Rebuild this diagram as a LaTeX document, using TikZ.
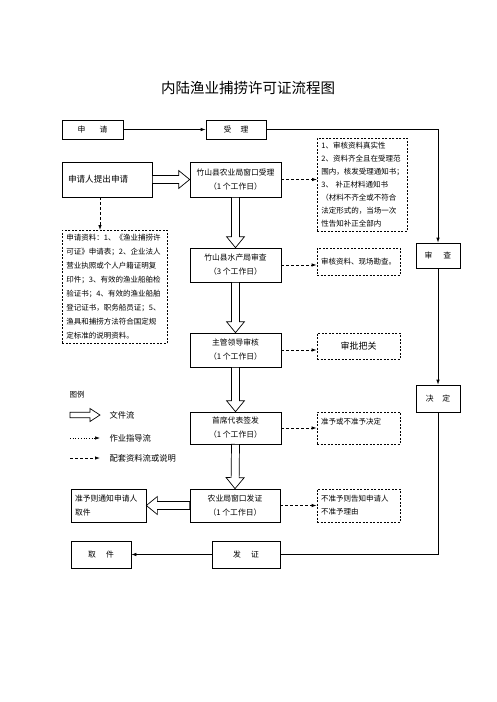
\documentclass[tikz,border=0pt]{standalone}
\usepackage{fontspec}
\newfontfamily\cjk{Noto Sans CJK SC}
\usepackage{tikz}
\usetikzlibrary{arrows.meta,calc}

\newcommand{\aw}{4pt}
\newcommand{\ah}{9pt}
\newcommand{\al}{11pt}
\newcommand{\docarrow}[2]{%
  \coordinate (da) at (#1);
  \coordinate (db) at (#2);
  \coordinate (dq) at ($(db)!\al!(da)$);
  \draw[line width=0.7pt, fill=white]
    ($(da)!\aw!90:(db)$) -- ($(dq)!\aw!90:(db)$) -- ($(dq)!\ah!90:(db)$) -- (db)
    -- ($(dq)!\ah!-90:(db)$) -- ($(dq)!\aw!-90:(db)$) -- ($(da)!\aw!-90:(db)$) -- cycle;
}

\begin{document}
\begin{tikzpicture}[x=1pt, y=-1pt, >=Latex,
  every node/.style={font=\cjk\fontsize{7.8}{14}\selectfont},
  box/.style={draw, line width=0.7pt, minimum width=91pt, minimum height=34pt, align=center, inner sep=2pt},
  tag/.style={draw, line width=0.7pt, minimum height=19pt, inner sep=2pt},
  note/.style={draw, line width=0.8pt, dash pattern=on 2pt off 1.5pt, inner sep=4pt, align=left,
    font=\cjk\fontsize{7.5}{13}\selectfont},
  flow/.style={line width=0.7pt, -{Latex[length=5pt,width=3.5pt]}},
  dflow/.style={line width=0.8pt, dash pattern=on 3pt off 2pt, -{Latex[length=5pt,width=3.5pt]}}]
\useasboundingbox (0,0) rectangle (496,702);

\node[font=\cjk\fontsize{14.5}{16}\selectfont] (title) at (248,88) {内陆渔业捕捞许可证流程图};

\node[tag, minimum width=61pt] (sq) at (92.5,129.5) {申\hspace{1.8em}请};
\node[tag, minimum width=60pt] (sl) at (236,129.5) {受\hspace{1.2em}理};
\node[box, minimum width=90pt, minimum height=35pt, inner xsep=6pt, text width=78pt, align=left,
  font=\cjk\fontsize{8.6}{14}\selectfont] (apply) at (107,179.5) {申请人提出申请};
\node[box, minimum height=35pt] (accept) at (235.5,179.5) {竹山县农业局窗口受理\\（1 个工作日）};
\node[box] (aq) at (235.5,265) {竹山县水产局审查\\（3 个工作日）};
\node[box] (lead) at (235.5,350) {主管领导审核\\（1 个工作日）};
\node[box, minimum height=32pt] (sign) at (235.5,428) {首席代表签发\\（1 个工作日）};
\node[box, minimum width=90pt, minimum height=33pt] (issue) at (235,505.5) {农业局窗口发证\\（1 个工作日）};
\node[box, minimum width=75pt, minimum height=33pt, inner xsep=4pt, text width=67pt, align=left]
  (notify) at (108.5,505.5) {准予则通知申请人\\取件};
\node[tag, minimum width=68pt, minimum height=27pt] (fz) at (246,554.5) {发\hspace{1.3em}证};
\node[tag, minimum width=60pt, minimum height=27pt] (qj) at (101,554.5) {取\hspace{1.3em}件};
\node[tag, minimum width=44pt, minimum height=25pt] (review) at (438,255.5) {审\hspace{1.4em}查};
\node[tag, minimum width=44pt, minimum height=27pt] (decide) at (438,398.5) {决\hspace{1.1em}定};

\node[note, anchor=north west, text width=82pt] (chk) at (317,138)
  {1、审核资料真实性\\2、资料齐全且在受理范\\围内，核发受理通知书；\\3、 补正材料通知书\\（材料不齐全或不符合\\法定形式的，当场一次\\性告知补正全部内};
\node[note, minimum width=83pt, minimum height=27pt, text width=75pt] (site) at (358.5,261.5) {审核资料、现场勘查。};
\node[note, minimum width=83pt, minimum height=26pt, align=center,
  font=\cjk\fontsize{9}{11}\selectfont] (gate) at (358.5,346) {审批把关};
\node[note, minimum width=83pt, minimum height=32pt, text width=75pt, text depth=14pt] (deci) at (358.5,428) {准予或不准予决定};
\node[note, minimum width=83pt, minimum height=33pt, text width=75pt] (refuse) at (358.5,505.5) {不准予则告知申请人\\不准予理由};
\node[note, anchor=north west, text width=97pt, font=\cjk\fontsize{7.5}{14}\selectfont] (docs) at (62,230)
  {申请资料：1、《渔业捕捞许\\可证》申请表；2、企业法人\\营业执照或个人户籍证明复\\印件；3、有效的渔业船舶检\\验证书；4、有效的渔业船舶\\登记证书，职务船员证；5、\\渔具和捕捞方法符合国定规\\定标准的说明资料。};

\draw[flow] (sq) -- (sl);
\draw[flow] (sl.east) -| (review.north);
\draw[flow] (review) -- (decide);
\draw[line width=0.7pt] (decide.south) |- (fz.east);
\draw[flow] (fz) -- (qj);

\docarrow{apply.east}{accept.west}
\docarrow{accept.south}{aq.north}
\docarrow{aq.south}{lead.north}
\docarrow{lead.south}{sign.north}
\docarrow{sign.south}{issue.north}
\docarrow{issue.west}{notify.east}

\draw[dflow] ([xshift=-7pt]apply.south) -- ([xshift=-7pt]apply.south |- docs.north);
\foreach \a/\b in {accept/chk, aq/site, lead/gate, sign/deci, issue/refuse}
  \draw[dflow] (\a.east) -- (\a.east -| \b.west);

\node[anchor=west, font=\cjk\fontsize{7.5}{9}\selectfont] (lg) at (66,395) {图例};
\coordinate (l1a) at (70,415);
\coordinate (l1b) at (100,415);
\coordinate (l2a) at (70,438);
\coordinate (l2b) at (100,438);
\coordinate (l3a) at (70,458);
\coordinate (l3b) at (100,458);
\begin{scope}
\renewcommand{\aw}{2.8pt}\renewcommand{\ah}{6.5pt}\renewcommand{\al}{10pt}
\docarrow{l1a}{l1b}
\end{scope}
\draw[line width=0.7pt, dotted, -{Latex[length=5pt,width=3.5pt]}] (l2a) -- (l2b);
\draw[dflow] (l3a) -- (l3b);
\node[anchor=west, font=\cjk\fontsize{8.3}{10}\selectfont] (l1) at (106,415) {文件流};
\node[anchor=west, font=\cjk\fontsize{8.3}{10}\selectfont] (l2) at (106,438) {作业指导流};
\node[anchor=west, font=\cjk\fontsize{8.3}{10}\selectfont] (l3) at (106,458) {配套资料流或说明};
\end{tikzpicture}
\end{document}
